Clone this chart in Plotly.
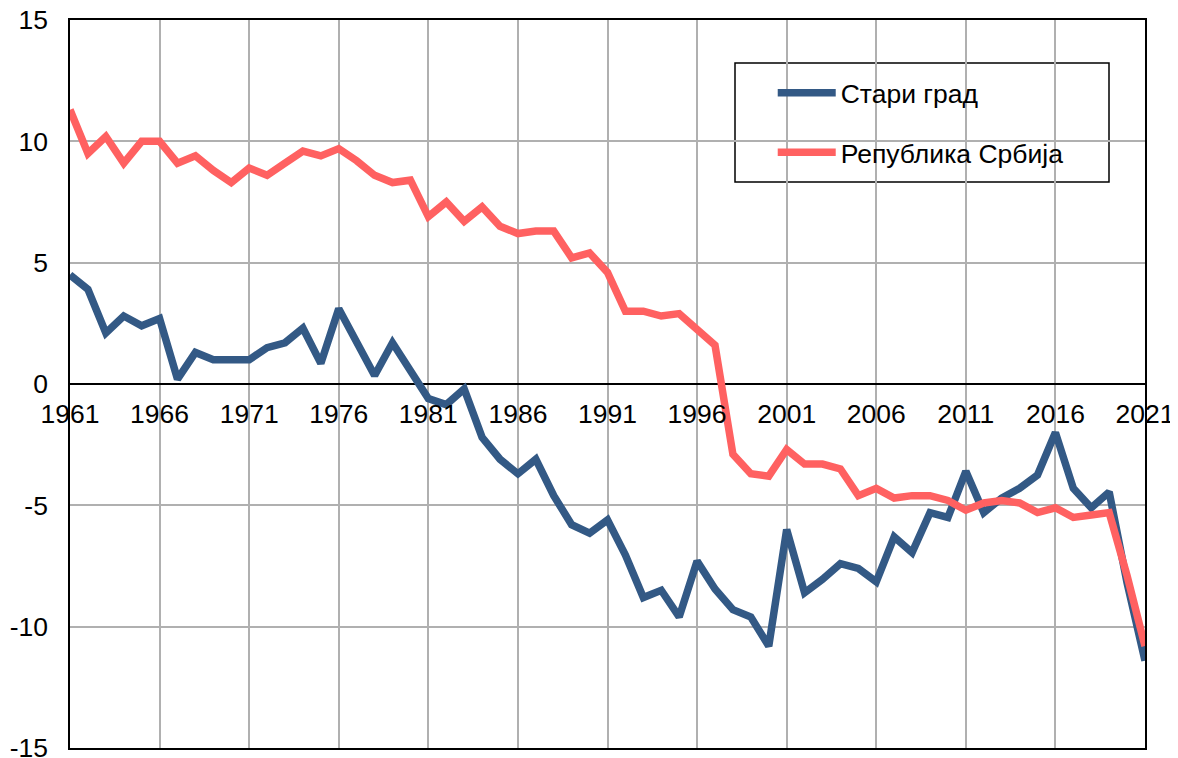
import plotly.graph_objects as go

years = list(range(1961, 2022))

stari_grad = [4.5, 3.9, 2.1, 2.8, 2.4, 2.7, 0.2, 1.3, 1.0, 1.0,
              1.0, 1.5, 1.7, 2.3, 0.85, 3.1, 1.8, 0.35, 1.7, 0.5,
              -0.6, -0.85, -0.2, -2.2, -3.1, -3.7, -3.1, -4.6, -5.8, -6.15,
              -5.6, -7.05, -8.8, -8.5, -9.6, -7.3, -8.45, -9.3, -9.6, -10.8,
              -6.0, -8.6, -8.05, -7.4, -7.6, -8.15, -6.3, -6.95, -5.3, -5.5,
              -3.6, -5.3, -4.7, -4.3, -3.75, -2.0, -4.3, -5.1, -4.45, -8.2,
              -11.4]

srbija = [11.3, 9.5, 10.2, 9.1, 10.0, 10.0, 9.1, 9.4, 8.8, 8.3,
          8.9, 8.6, 9.1, 9.6, 9.4, 9.7, 9.2, 8.6, 8.3, 8.4,
          6.9, 7.5, 6.7, 7.3, 6.5, 6.2, 6.3, 6.3, 5.2, 5.4,
          4.6, 3.0, 3.0, 2.8, 2.9, 2.2, 1.6, -2.9, -3.7, -3.8,
          -2.7, -3.3, -3.3, -3.5, -4.6, -4.3, -4.7, -4.6, -4.6, -4.8,
          -5.2, -4.9, -4.8, -4.9, -5.3, -5.1, -5.5, -5.4, -5.3, -7.9,
          -10.8]

names = ["Стари град", "Република Србија"]
colors = ["#335985", "#FF6161"]

x_ticks = list(range(1961, 2022, 5))
x_labels = [str(v) for v in x_ticks]
y_ticks = [-15, -10, -5, 0, 5, 10, 15]
y_labels = ["-15", "-10", "-5", "0", "5", "10", "15"]

FONT = "Liberation Sans, Arial, sans-serif"
FS = 26.5

fig = go.Figure()
for name, vals, col, grp in zip(names, [stari_grad, srbija], colors, ["a", "b"]):
    fig.add_trace(go.Scatter(x=years, y=vals, mode="lines", name=name,
                             legendgroup=grp,
                             line=dict(color=col, width=7.5, shape="linear"),
                             hoverinfo="x+y"))

# invisible helper trace so the year axis crossing at zero gets drawn
fig.add_trace(go.Scatter(x=[years[0], years[-1]], y=[None, None], xaxis="x2",
                         yaxis="y", mode="lines", showlegend=False,
                         hoverinfo="skip"))

fig.update_layout(
    width=1170, height=750,
    margin=dict(l=62, r=33, t=12, b=10),
    plot_bgcolor="white", paper_bgcolor="white",
    font=dict(family=FONT, size=FS, color="black"),
    showlegend=True,
    legend=dict(x=0.6537, y=0.9327, xanchor="left", yanchor="top",
                bgcolor="rgba(0,0,0,0)", borderwidth=0,
                font=dict(size=FS, family=FONT), tracegroupgap=22,
                itemwidth=58),
    xaxis=dict(range=[1961, 2021], tickvals=x_ticks, showticklabels=False,
               showgrid=True, gridcolor="#B0B0B0", gridwidth=1.5,
               showline=True, linecolor="black", linewidth=1.5, mirror=True,
               zeroline=False, ticks="", automargin=False),
    xaxis2=dict(matches="x", overlaying="x", anchor="free", position=0.5,
                side="bottom", tickvals=x_ticks, ticktext=x_labels,
                showgrid=False, showline=False, zeroline=False, ticks="",
                tickfont=dict(size=FS, family=FONT), ticklabelstandoff=11,
                ticklabeloverflow="allow", automargin=False),
    yaxis=dict(range=[-15, 15], tickvals=y_ticks, ticktext=y_labels,
               showgrid=True, gridcolor="#B0B0B0", gridwidth=1.5,
               showline=True, linecolor="black", linewidth=1.5, mirror=True,
               zeroline=True, zerolinecolor="black", zerolinewidth=1.5,
               ticks="", ticklabelstandoff=15, automargin=False,
               ticklabeloverflow="allow",
               tickfont=dict(size=FS, family=FONT)),
    shapes=[dict(type="rect", xref="paper", yref="paper",
                 x0=(735 - 70) / 1075, x1=(1109 - 70) / 1075,
                 y0=(748 - 182) / 728, y1=(748 - 63) / 728,
                 line=dict(color="black", width=1.5),
                 fillcolor="white", layer="below")],
)

fig.write_html("out.html")
